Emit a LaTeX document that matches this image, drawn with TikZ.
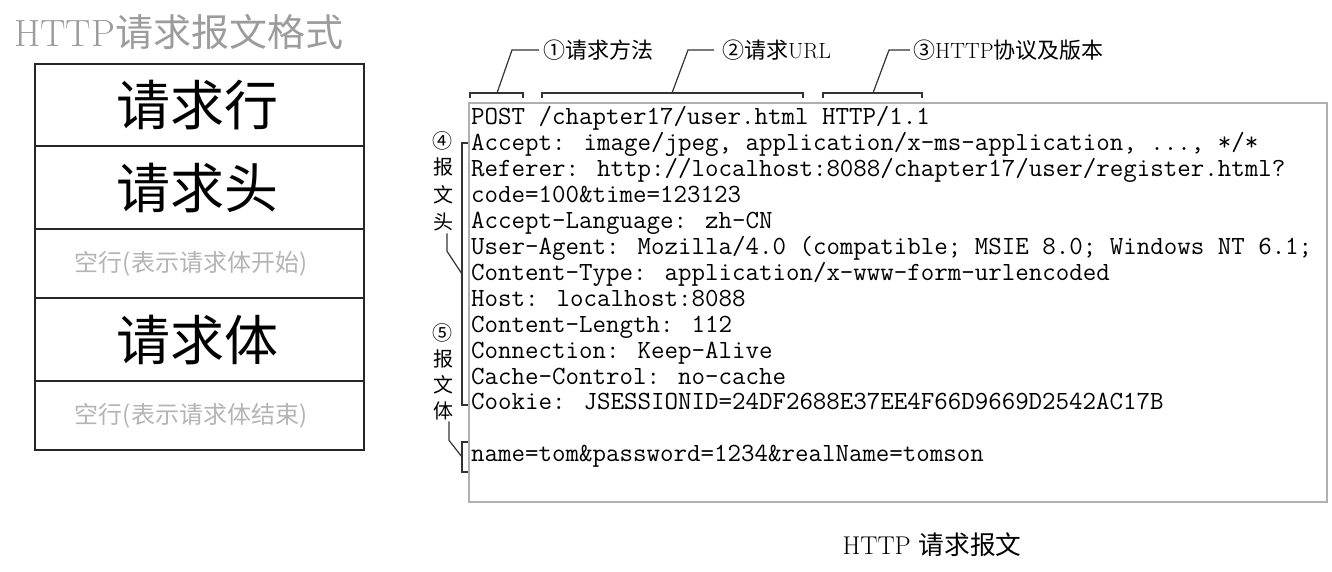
\documentclass[tikz,border=0pt]{standalone}
\usepackage{fontspec}
\usepackage{tikz}
\newfontfamily\cjk{Noto Sans CJK SC}
\definecolor{titlegray}{HTML}{9C9C9C}
\definecolor{lightgray}{HTML}{B4B4B4}
\definecolor{framegray}{HTML}{B0B0B0}
\newcommand{\fsz}[1]{\fontsize{#1}{#1}\selectfont}

\begin{document}
\begin{tikzpicture}[x=1pt,y=1pt]
\tikzstyle{every node}+=[inner sep=0pt]
\tikzstyle{codeline}=[anchor=base west,font=\fsz{26.2}\ttfamily]
\tikzstyle{leader}=[line width=1.2pt,black!80]
\tikzstyle{sidechar}=[font=\fsz{20}\cjk]
\tikzstyle{toplabel}=[anchor=west,font=\fsz{22}]
\useasboundingbox (0,0) rectangle (1332,-572);
% title
\node [anchor=base west,font=\fsz{38},text=titlegray] (title) at (14,-47) {HTTP{\cjk 请求报文格式}};
% left table
\draw [black!85,line width=1.4pt] (35,-64) rectangle (364,-450);
\draw [black!85,line width=1.4pt] (35,-146) -- (364,-146);
\draw [black!85,line width=1.4pt] (35,-229) -- (364,-229);
\draw [black!85,line width=1.4pt] (35,-298) -- (364,-298);
\draw [black!85,line width=1.4pt] (35,-381) -- (364,-381);
\node [font=\fsz{54}\cjk] (row1) at (197,-105) {请求行};
\node [font=\fsz{54}\cjk] (row2) at (197,-188) {请求头};
\node [font=\fsz{24}\cjk,text=lightgray] (row3) at (191,-264) {空行(表示请求体开始)};
\node [font=\fsz{54}\cjk] (row4) at (197,-340) {请求体};
\node [font=\fsz{24}\cjk,text=lightgray] (row5) at (191,-416) {空行(表示请求体结束)};
% message box
\draw [framegray,line width=1.5pt] (469,-103) rectangle (1327,-502);
\node [codeline] (l0) at (471,-125) {POST /chapter17/user.html HTTP/1.1};
\node [codeline] (l1) at (471,-151) {Accept: image/jpeg, application/x-ms-application, ..., */*};
\node [codeline] (l2) at (471,-177) {Referer: http://localhost:8088/chapter17/user/register.html?};
\node [codeline] (l3) at (471,-203) {code=100\&time=123123};
\node [codeline] (l4) at (471,-228.6) {Accept-Language: zh-CN};
\node [codeline] (l5) at (471,-254.5) {User-Agent: Mozilla/4.0 (compatible; MSIE 8.0; Windows NT 6.1;};
\node [codeline] (l6) at (471,-280.4) {Content-Type: application/x-www-form-urlencoded};
\node [codeline] (l7) at (471,-306.3) {Host: localhost:8088};
\node [codeline] (l8) at (471,-332.2) {Content-Length: 112};
\node [codeline] (l9) at (471,-358.1) {Connection: Keep-Alive};
\node [codeline] (l10) at (471,-384) {Cache-Control: no-cache};
\node [codeline] (l11) at (471,-409.9) {Cookie: JSESSIONID=24DF2688E37EE4F66D9669D2542AC17B};
\node [codeline] (l13) at (471,-461.7) {name=tom\&password=1234\&realName=tomson};
% top brackets and labels
\node [toplabel] (method) at (543,-50) {{\cjk ①请求方法}};
\node [toplabel] (url) at (722,-50) {{\cjk ②请求}URL};
\node [toplabel] (proto) at (913,-50) {{\cjk ③}HTTP{\cjk 协议及版本}};
\draw [leader] (470,-98) -- (470,-93) -- (523,-93) -- (523,-98);
\draw [leader] (542,-98) -- (542,-93) -- (803,-93) -- (803,-98);
\draw [leader] (823,-98) -- (823,-93) -- (922,-93) -- (922,-98);
\coordinate (m1) at (497,-93);
\coordinate (m2) at (672,-93);
\coordinate (m3) at (873,-93);
\draw [leader] (m1) -- ++(15,43) -- ([xshift=-4pt]method.west);
\draw [leader] (m2) -- ++(16,43) -- ([xshift=-8pt]url.west);
\draw [leader] (m3) -- ++(16,43) -- ([xshift=-3pt]proto.west);
% side brackets and labels
\node [sidechar] (h0) at (442,-141) {④};
\node [sidechar] (h1) at (443,-167) {报};
\node [sidechar] (h2) at (443,-195) {文};
\node [sidechar] (h3) at (443,-222) {头};
\node [sidechar] (b0) at (442,-333) {⑤};
\node [sidechar] (b1) at (443,-359) {报};
\node [sidechar] (b2) at (443,-385) {文};
\node [sidechar] (b3) at (443,-411) {体};
\draw [leader] (468,-143) -- (462,-143) -- (462,-405) -- (468,-405);
\draw [leader] (468,-442) -- (462,-442) -- (462,-472) -- (468,-472);
\coordinate (hm) at (462,-274);
\coordinate (bm) at (462,-457);
\draw [leader] ([xshift=4pt,yshift=-2pt]h3.south) -- ++(0,-18) -- (hm);
\draw [leader] ([xshift=6pt,yshift=-1pt]b3.south) -- ++(0,-19) -- (bm);
% caption
\node [font=\fsz{25.7}] (caption) at (932,-545) {HTTP {\cjk 请求报文}};
\end{tikzpicture}
\end{document}
